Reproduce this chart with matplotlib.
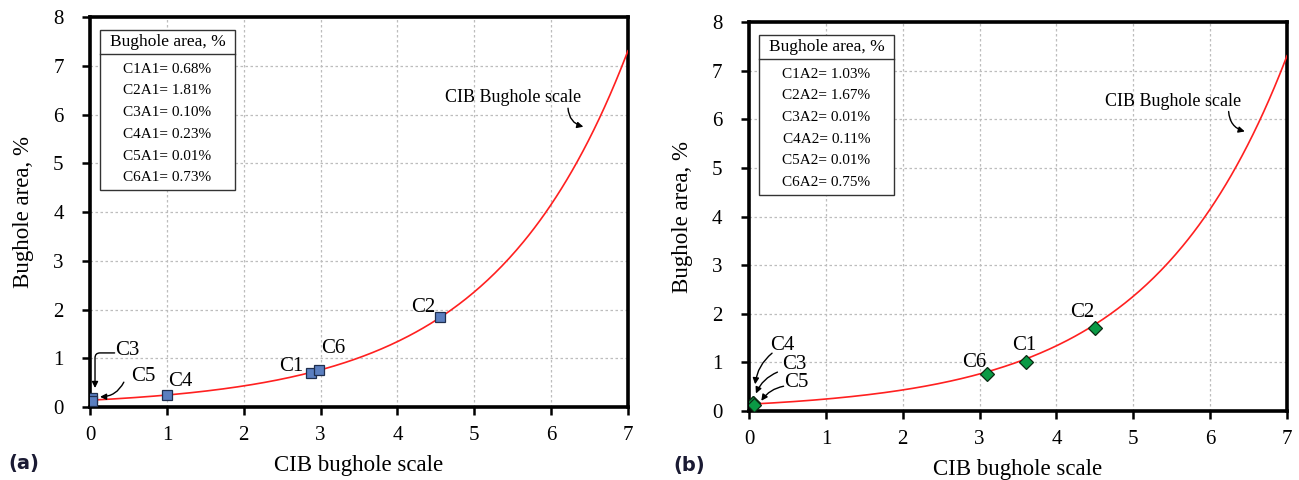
import matplotlib
matplotlib.use("Agg")
import matplotlib.pyplot as plt
from matplotlib.patches import Rectangle
import numpy as np

plt.rcParams['font.family'] = ['Liberation Serif', 'DejaVu Serif']

# case names
cases = ["C1", "C2", "C3", "C4", "C5", "C6"]

# panel (a): CIB scale position and plotted bughole area of each case
scale_a = [2.88, 4.56, 0.03, 1.0, 0.03, 2.98]
plot_a = [0.69, 1.85, 0.18, 0.24, 0.13, 0.75]
area_a = [0.68, 1.81, 0.10, 0.23, 0.01, 0.73]

# panel (b)
scale_b = [3.6, 4.5, 0.05, 0.05, 0.07, 3.1]
plot_b = [1.01, 1.71, 0.16, 0.17, 0.12, 0.76]
area_b = [1.03, 1.67, 0.01, 0.11, 0.01, 0.75]

# CIB bughole scale curve, y = a * exp(b * x)
cib_a = 0.14
cib_b = 0.565

xticks = [0, 1, 2, 3, 4, 5, 6, 7]
yticks = [0, 1, 2, 3, 4, 5, 6, 7, 8]

fig = plt.figure(figsize=(12.99, 4.8), dpi=100)
ax_a = fig.add_axes([0.0693, 0.152, 0.4141, 0.8125])
ax_b = fig.add_axes([0.5766, 0.1437, 0.4142, 0.8104])


def style_axes(ax):
    ax.set_xlim(0, 7)
    ax.set_ylim(0, 8)
    ax.set_xticks(xticks)
    ax.set_yticks(yticks)
    ax.grid(True, color='#bdbdbd', linestyle=(0, (2, 2)), linewidth=0.9)
    ax.set_axisbelow(True)
    for s in ax.spines.values():
        s.set_linewidth(2.6)
        s.set_color('black')
    ax.tick_params(axis='both', direction='out', length=6, width=1.8,
                   labelsize=15)
    ax.tick_params(axis='y', pad=13)
    ax.tick_params(axis='x', pad=8)
    ax.set_xlabel('CIB bughole scale', fontsize=16.5, labelpad=7)
    ax.set_ylabel('Bughole area, %', fontsize=16.5, labelpad=14)
    xs = np.linspace(0, 7, 300)
    ax.plot(xs, cib_a * np.exp(cib_b * xs), color='#ff2020', lw=1.2, zorder=3)


def draw_table(ax, suffix, areas):
    ax.add_patch(Rectangle((0.019, 0.556), 0.25, 0.411, transform=ax.transAxes,
                           facecolor='white', edgecolor='#333333', lw=1.0,
                           zorder=5))
    ax.plot([0.019, 0.269], [0.904, 0.904], transform=ax.transAxes,
            color='#333333', lw=1.0, zorder=6)
    ax.text(0.144, 0.936, 'Bughole area, %', transform=ax.transAxes,
            ha='center', va='center', fontsize=12.5, zorder=7)
    for i, (c, v) in enumerate(zip(cases, areas)):
        ax.text(0.144, 0.866 - i * 0.0556, f'{c}{suffix}= {v:.2f}%',
                transform=ax.transAxes, ha='center', va='center',
                fontsize=11, zorder=7)


def arrow(ax, start, tip, conn):
    ax.annotate('', xy=tip, xytext=start,
                arrowprops=dict(arrowstyle='-|>', color='black', lw=1.0,
                                mutation_scale=9, connectionstyle=conn,
                                shrinkA=0, shrinkB=0))


def label(ax, x, y, s, size=15):
    ax.text(x, y, s, fontsize=size, ha='center', va='center')


# panel (a)
style_axes(ax_a)
ax_a.plot(scale_a, plot_a, 's', color='#5b7fc0', mec='#1f2f4f', mew=0.9,
          ms=7, zorder=4)
draw_table(ax_a, 'A1', area_a)
label(ax_a, 0.48, 1.17, 'C3')
arrow(ax_a, (0.32, 1.11), (0.065, 0.39), 'angle,angleA=0,angleB=90,rad=5')
label(ax_a, 0.69, 0.62, 'C5')
arrow(ax_a, (0.44, 0.51), (0.13, 0.21), 'arc3,rad=-0.3')
label(ax_a, 1.18, 0.53, 'C4')
label(ax_a, 2.62, 0.84, 'C1')
label(ax_a, 3.16, 1.21, 'C6')
label(ax_a, 4.34, 2.05, 'C2')
label(ax_a, 5.51, 6.34, 'CIB Bughole scale', 13)
arrow(ax_a, (6.22, 6.13), (6.42, 5.75), 'arc3,rad=0.35')

# panel (b)
style_axes(ax_b)
ax_b.plot(scale_b, plot_b, 'D', color='#0a9a45', mec='#0b2a12', mew=0.9,
          ms=7, zorder=4)
draw_table(ax_b, 'A2', area_b)
label(ax_b, 0.43, 1.34, 'C4')
arrow(ax_b, (0.30, 1.19), (0.08, 0.55), 'arc3,rad=0.2')
label(ax_b, 0.59, 0.95, 'C3')
arrow(ax_b, (0.37, 0.80), (0.09, 0.36), 'arc3,rad=0.2')
label(ax_b, 0.62, 0.58, 'C5')
arrow(ax_b, (0.45, 0.51), (0.16, 0.21), 'arc3,rad=0.2')
label(ax_b, 2.93, 0.99, 'C6')
label(ax_b, 3.58, 1.34, 'C1')
label(ax_b, 4.33, 2.02, 'C2')
label(ax_b, 5.52, 6.36, 'CIB Bughole scale', 13)
arrow(ax_b, (6.24, 6.16), (6.45, 5.75), 'arc3,rad=0.35')

fig.text(8 / 1299, 1 - 463 / 480, '(a)', fontsize=14, fontweight='bold',
         family='DejaVu Sans', color='#1a1a33', va='center', ha='left')
fig.text(673 / 1299, 1 - 465 / 480, '(b)', fontsize=14, fontweight='bold',
         family='DejaVu Sans', color='#1a1a33', va='center', ha='left')

fig.savefig('out.png', dpi=100)
